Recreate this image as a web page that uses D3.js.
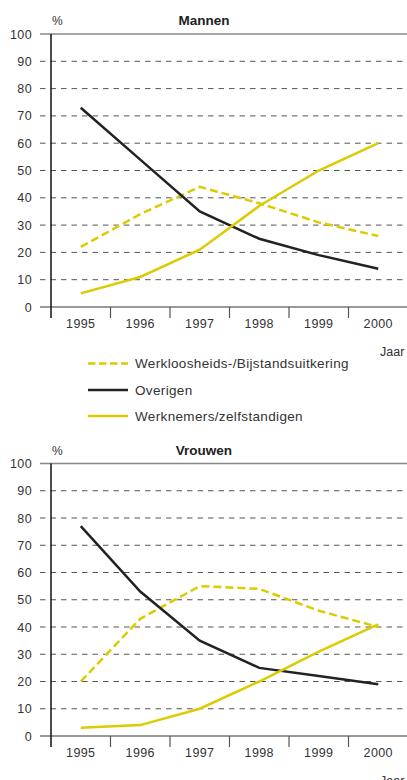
<!DOCTYPE html>
<html><head><meta charset="utf-8">
<script src="https://cdn.jsdelivr.net/npm/d3@7/dist/d3.min.js"></script>
<style>
html,body{margin:0;padding:0;background:#fff;}
svg{display:block;font-family:"Liberation Sans",Arial,sans-serif;}
</style></head><body>
<svg id="c" width="407" height="780"></svg>
<script>
const years = ["1995","1996","1997","1998","1999","2000"];
const yTicks = [0,10,20,30,40,50,60,70,80,90,100];
const seriesNames = ["Werkloosheids-/Bijstandsuitkering","Overigen","Werknemers/zelfstandigen"];
const mannenWerkloos = [22,34,44,38,31,26];
const mannenOverigen = [73,54,35,25,19,14];
const mannenWerknemers = [5,11,21,37,50,60];
const vrouwenWerkloos = [20,43,55,54,46,40];
const vrouwenOverigen = [77,53,35,25,22,19];
const vrouwenWerknemers = [3,4,10,20,31,41];

const YEL = "#dccb00", BLK = "#222", TXT = "#333";
const styles = [
  {color:YEL, dash:"8,4"},
  {color:BLK, dash:null},
  {color:YEL, dash:null}
];
const svg = d3.select("#c");
const x = d3.scaleBand().domain(years).range([51,408]);

function panel(title, top, bottom, data){
  const y = d3.scaleLinear().domain([0,100]).range([bottom, top]);
  const g = svg.append("g");
  g.selectAll("line.grid").data(yTicks.filter(d=>d>0 && d<100)).join("line")
    .attr("x1",40).attr("x2",407).attr("y1",d=>y(d)).attr("y2",d=>y(d))
    .attr("stroke","#555").attr("stroke-width",1).attr("stroke-dasharray","5.5,5");
  g.append("line").attr("x1",40).attr("x2",407).attr("y1",y(100)).attr("y2",y(100))
    .attr("stroke","#888").attr("stroke-width",1.5);
  g.selectAll("text.yl").data(yTicks).join("text")
    .attr("x",32).attr("y",d=>y(d)).attr("dy","0.36em").attr("text-anchor","end")
    .attr("font-size",12.5).attr("letter-spacing","0.4px").attr("fill",TXT).text(d=>d);
  const xa = d3.axisBottom(x).tickSize(0).tickPadding(12);
  const ax = g.append("g").attr("transform",`translate(0,${y(0)})`).call(xa);
  ax.select(".domain").remove();
  ax.selectAll("text").attr("font-size",12.5).attr("letter-spacing","0.4px").attr("fill",TXT)
    .attr("font-family","Liberation Sans, Arial, sans-serif");
  g.append("line").attr("x1",40).attr("x2",407).attr("y1",y(0)).attr("y2",y(0))
    .attr("stroke","#777").attr("stroke-width",1.5);
  const bounds = years.map(d=>x(d));
  g.selectAll("line.tk").data(bounds.slice(1)).join("line")
    .attr("x1",d=>d).attr("x2",d=>d).attr("y1",y(0)).attr("y2",y(0)+11)
    .attr("stroke","#555").attr("stroke-width",1.2);
  g.append("line").attr("x1",51).attr("x2",51).attr("y1",y(100)).attr("y2",y(0)+11)
    .attr("stroke","#111").attr("stroke-width",1.5);
  const line = d3.line().x((d,i)=>x(years[i])+x.bandwidth()/2).y(d=>y(d));
  data.forEach((s,i)=>{
    g.append("path").attr("d",line(s)).attr("fill","none")
      .attr("stroke",styles[i].color).attr("stroke-width",2.5)
      .attr("stroke-dasharray",styles[i].dash);
  });
  g.append("text").attr("x",52).attr("y",y(100)-9).attr("font-size",12).attr("fill",TXT).text("%");
  g.append("text").attr("x",204).attr("y",y(100)-9).attr("text-anchor","middle")
    .attr("font-size",13.5).attr("font-weight","bold").attr("fill","#222").text(title);
  g.append("text").attr("x",380).attr("y",y(0)+49).attr("font-size",12.5).attr("fill",TXT).text("Jaar");
  return y;
}

panel("Mannen", 34, 307, [mannenWerkloos, mannenOverigen, mannenWerknemers]);
panel("Vrouwen", 463.5, 736, [vrouwenWerkloos, vrouwenOverigen, vrouwenWerknemers]);

const lg = svg.append("g");
const ly = [363.5, 390, 416];
seriesNames.forEach((n,i)=>{
  lg.append("line").attr("x1",88).attr("x2",128).attr("y1",ly[i]).attr("y2",ly[i])
    .attr("stroke",styles[i].color).attr("stroke-width",2.5)
    .attr("stroke-dasharray", i===0 ? "7.5,3.5" : null);
  lg.append("text").attr("x",135).attr("y",ly[i]).attr("dy","0.35em")
    .attr("font-size",13.5).attr("letter-spacing","0.35px").attr("fill",TXT).text(n);
});
</script>
</body></html>
